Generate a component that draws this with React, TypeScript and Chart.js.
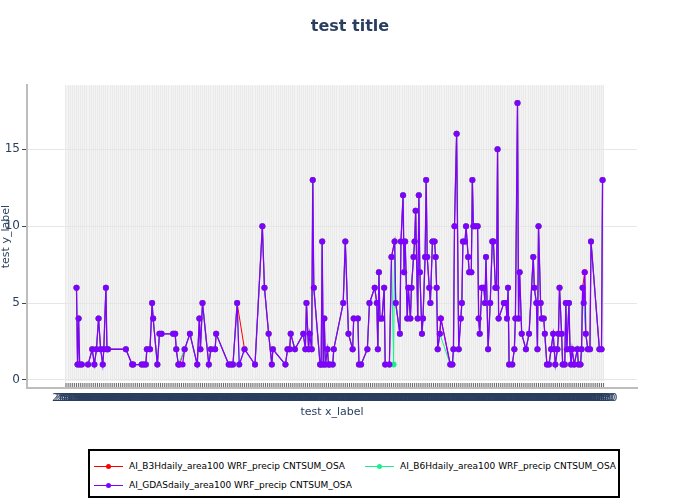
import React, { useEffect, useRef } from 'react';
import { Chart, registerables } from 'chart.js';

Chart.register(...registerables);

// ---------- data ----------
const START_DATE_UTC = Date.UTC(2019, 5, 1);
const TICK_STEP_DAYS = 2;
const LAST_TICK_DAY = 512;
const Y_TICKS = [0, 5, 10, 15];

const SERIES_NAMES = [
  'AI_B3Hdaily_area100 WRF_precip CNTSUM_OSA',
  'AI_B6Hdaily_area100 WRF_precip CNTSUM_OSA',
  'AI_GDASdaily_area100 WRF_precip CNTSUM_OSA',
];
const SERIES_COLORS = ['#ff0000', '#19f08c', '#8000ff'];

// day offsets (from START_DATE) of the GDAS series
const GDAS_DAYS = [
  10, 11, 12, 13, 15, 21, 25, 27, 29, 31, 33, 35, 36, 38, 39, 40, 57, 63, 64, 72,
  74, 76, 77, 80, 82, 83, 87, 89, 91, 102, 104, 105, 107, 108, 111, 113, 118, 125, 127, 128,
  130, 136, 138, 142, 143, 155, 157, 159, 163, 165, 170, 180, 187, 189, 193, 196, 197, 209, 211, 213,
  214, 218, 226, 228, 229, 231, 232, 234, 235, 236, 242, 243, 244, 245, 246, 247, 249, 250, 251, 254,
  255, 264, 266, 269, 273, 274, 278, 279, 281, 287, 289, 294, 296, 297, 298, 299, 301, 303, 304, 308,
  310, 313, 314, 318, 319, 321, 322, 323, 325, 326, 328, 329, 331, 332, 333, 335, 336, 337, 339, 340,
  342, 343, 344, 346, 347, 349, 351, 352, 353, 354, 356, 357, 366, 368, 369, 370, 372, 374, 376, 377,
  378, 380, 381, 383, 384, 386, 387, 388, 390, 392, 393, 394, 396, 398, 399, 400, 402, 404, 406, 407,
  409, 410, 411, 412, 417, 419, 420, 421, 422, 425, 427, 428, 430, 431, 432, 434, 438, 441, 445, 446,
  448, 449, 450, 452, 453, 455, 456, 458, 460, 462, 464, 465, 466, 468, 469, 470, 472, 473, 475, 476,
  477, 479, 480, 481, 482, 484, 487, 488, 490, 491, 492, 493, 494, 495, 497, 499, 500, 508, 510, 511,
];
const GDAS_VALUES = [
  6, 1, 4, 1, 1, 1, 2, 1, 2, 4, 2, 1, 2, 6, 2, 2, 2, 1, 1, 1,
  1, 1, 2, 2, 5, 4, 1, 3, 3, 3, 3, 2, 1, 1, 1, 2, 3, 1, 4, 2,
  5, 1, 2, 2, 3, 1, 1, 1, 5, 1, 2, 1, 10, 6, 3, 1, 2, 1, 2, 2,
  3, 2, 3, 2, 5, 2, 3, 2, 13, 6, 1, 1, 9, 1, 4, 1, 2, 1, 1, 1,
  2, 5, 9, 3, 2, 4, 4, 1, 1, 2, 5, 6, 5, 2, 7, 4, 4, 6, 1, 1,
  8, 9, 5, 3, 9, 12, 7, 9, 4, 6, 4, 6, 8, 9, 11, 4, 12, 7, 3, 4,
  8, 13, 8, 6, 5, 9, 9, 8, 6, 2, 3, 4, 1, 1, 2, 10, 16, 2, 4, 5,
  9, 9, 10, 8, 7, 7, 13, 10, 10, 10, 4, 3, 6, 6, 5, 8, 2, 5, 9, 9,
  6, 6, 15, 4, 5, 5, 4, 6, 1, 1, 2, 4, 18, 4, 7, 3, 2, 3, 8, 6,
  5, 2, 10, 5, 4, 4, 3, 1, 1, 2, 3, 2, 1, 2, 3, 6, 3, 1, 1, 5,
  2, 5, 2, 1, 2, 1, 2, 1, 1, 2, 6, 5, 7, 3, 2, 2, 9, 2, 2, 13,
];
// the other two series equal GDAS except on these days
const B3H_MISSING_DAYS = [111, 165, 493];
const B6H_MISSING_DAYS = [108, 111, 357, 494];
const B6H_EXTRA_DAYS = [312];
const B6H_EXTRA_VALUES = [1];

// ---------- helpers ----------
type Pt = { x: number; y: number };
function buildSeries(missing: number[], extraDays: number[] = [], extraValues: number[] = []): Pt[] {
  const pts: Pt[] = [];
  GDAS_DAYS.forEach((d, i) => {
    if (!missing.includes(d)) pts.push({ x: d, y: GDAS_VALUES[i] });
  });
  extraDays.forEach((d, i) => pts.push({ x: d, y: extraValues[i] }));
  pts.sort((a, b) => a.x - b.x);
  return pts;
}

const TICK_DAYS: number[] = [];
for (let d = 0; d <= LAST_TICK_DAY; d += TICK_STEP_DAYS) TICK_DAYS.push(d);

function tickLabel(day: number): string {
  return String(new Date(START_DATE_UTC + day * 86400000).getUTCFullYear());
}

const TEXT_COLOR = '#2a3f5f';
const FONT = 'DejaVu Sans';

const plotBgPlugin = {
  id: 'plotBg',
  beforeDraw(chart: any) {
    const { ctx, chartArea, scales } = chart;
    ctx.save();
    ctx.fillStyle = '#ffffff';
    ctx.fillRect(0, 0, chart.width, chart.height);
    const x0 = scales.x.getPixelForValue(TICK_DAYS[0]);
    const x1 = scales.x.getPixelForValue(TICK_DAYS[TICK_DAYS.length - 1]);
    ctx.fillStyle = '#f3f3f3';
    ctx.fillRect(x0, chartArea.top, x1 - x0, chartArea.bottom - chartArea.top);
    ctx.restore();
  },
  beforeDatasetsDraw(chart: any) {
    const { ctx, chartArea, scales } = chart;
    const yTop = scales.y.getPixelForValue(0) + 3;
    const yBot = chartArea.bottom - 1;
    ctx.save();
    ctx.fillStyle = '#ffffff';
    const x0 = scales.x.getPixelForValue(TICK_DAYS[0]);
    const x1 = scales.x.getPixelForValue(TICK_DAYS[TICK_DAYS.length - 1]);
    ctx.fillRect(x0, yTop - 2, x1 - x0, 2);
    ctx.strokeStyle = '#6a6a6a';
    ctx.lineWidth = 1;
    ctx.beginPath();
    TICK_DAYS.forEach((d) => {
      const px = scales.x.getPixelForValue(d);
      ctx.moveTo(px, yTop);
      ctx.lineTo(px, yBot);
    });
    ctx.stroke();
    ctx.restore();
  },
};

const LEGEND_ITEMS = [
  { idx: 0, left: 4, top: 15 },
  { idx: 1, left: 275, top: 15 },
  { idx: 2, left: 4, top: 34 },
];

export default function App() {
  const canvasRef = useRef<HTMLCanvasElement | null>(null);

  useEffect(() => {
    if (!canvasRef.current) return;
    Chart.defaults.font.family = FONT;
    const series = [
      buildSeries(B3H_MISSING_DAYS),
      buildSeries(B6H_MISSING_DAYS, B6H_EXTRA_DAYS, B6H_EXTRA_VALUES),
      buildSeries([]),
    ];
    const orders = [2, 1, 0];
    const widths = [1, 1, 1.3];
    const chart = new Chart(canvasRef.current, {
      type: 'line',
      data: {
        datasets: series.map((data, i) => ({
          label: SERIES_NAMES[i],
          data,
          order: orders[i],
          borderColor: SERIES_COLORS[i],
          backgroundColor: SERIES_COLORS[i],
          pointBackgroundColor: SERIES_COLORS[i],
          pointBorderWidth: 0,
          pointRadius: 3,
          pointHoverRadius: 3,
          borderWidth: widths[i],
          tension: 0,
          fill: false,
        })),
      },
      options: {
        responsive: false,
        animation: false,
        events: [],
        layout: { padding: { left: 0, right: 0, top: 0, bottom: 80 } },
        plugins: {
          legend: { display: false },
          tooltip: { enabled: false },
          title: {
            display: true,
            text: 'test title',
            color: TEXT_COLOR,
            font: { family: FONT, size: 16, weight: 'bold' },
            padding: { top: 17, bottom: 49 },
          },
        },
        scales: {
          x: {
            type: 'linear',
            position: 'bottom',
            min: -37.14,
            max: 543.8,
            afterBuildTicks: (axis: any) => {
              axis.ticks = TICK_DAYS.map((v) => ({ value: v }));
            },
            afterFit: (s: any) => {
              s.height = 32;
            },
            ticks: {
              autoSkip: false,
              maxRotation: 0,
              minRotation: 0,
              color: TEXT_COLOR,
              font: { family: FONT, size: 11 },
              padding: 4,
              callback: (v: any) => tickLabel(Number(v)),
            },
            grid: { color: '#eaeaea', lineWidth: 1, drawTicks: false },
            border: { display: true, color: '#bdbdbd', width: 2 },
            title: {
              display: true,
              text: 'test x_label',
              color: TEXT_COLOR,
              font: { family: FONT, size: 11 },
              padding: { top: 0, bottom: 1 },
            },
          },
          y: {
            type: 'linear',
            position: 'left',
            min: -0.52,
            max: 19.16,
            afterBuildTicks: (axis: any) => {
              axis.ticks = Y_TICKS.map((v) => ({ value: v }));
            },
            afterFit: (s: any) => {
              s.width = 27;
            },
            ticks: {
              color: TEXT_COLOR,
              font: { family: FONT, size: 12 },
              padding: 2,
            },
            grid: {
              color: '#e6e6e6',
              lineWidth: 1,
              drawTicks: true,
              tickLength: 5,
              tickColor: '#444444',
              tickWidth: 1,
            },
            border: { display: true, color: '#bdbdbd', width: 2 },
            title: {
              display: true,
              text: 'test y_label',
              color: TEXT_COLOR,
              font: { family: FONT, size: 11 },
              padding: 0,
            },
          },
          yRight: {
            type: 'linear',
            position: 'right',
            display: true,
            grid: { display: false, drawTicks: false },
            ticks: { display: false },
            border: { display: false },
            afterFit: (s: any) => {
              s.width = 63;
            },
          },
        },
      } as any,
      plugins: [plotBgPlugin],
    });
    return () => chart.destroy();
  }, []);

  return (
    <div style={{ position: 'fixed', left: 0, top: 0, width: 700, height: 500, background: '#fff' }}>
      <canvas ref={canvasRef} width={700} height={500} style={{ position: 'absolute', left: 0, top: 0 }} />
      <div
        style={{
          position: 'absolute',
          left: 88,
          top: 449,
          width: 532,
          height: 49,
          boxSizing: 'border-box',
          border: '2px solid #000',
          background: '#fff',
          fontFamily: FONT,
          fontSize: 9,
          color: '#000',
        }}
      >
        {LEGEND_ITEMS.map((it) => (
          <div key={it.idx}>
            <div
              style={{
                position: 'absolute',
                left: it.left,
                top: it.top - 0.5,
                width: 29,
                height: 1,
                background: SERIES_COLORS[it.idx],
              }}
            />
            <div
              style={{
                position: 'absolute',
                left: it.left + 12,
                top: it.top - 2.5,
                width: 5,
                height: 5,
                borderRadius: '50%',
                background: SERIES_COLORS[it.idx],
              }}
            />
            <div
              style={{
                position: 'absolute',
                left: it.left + 35,
                top: it.top - 6,
                height: 12,
                lineHeight: '12px',
                whiteSpace: 'nowrap',
              }}
            >
              {SERIES_NAMES[it.idx]}
            </div>
          </div>
        ))}
      </div>
    </div>
  );
}
